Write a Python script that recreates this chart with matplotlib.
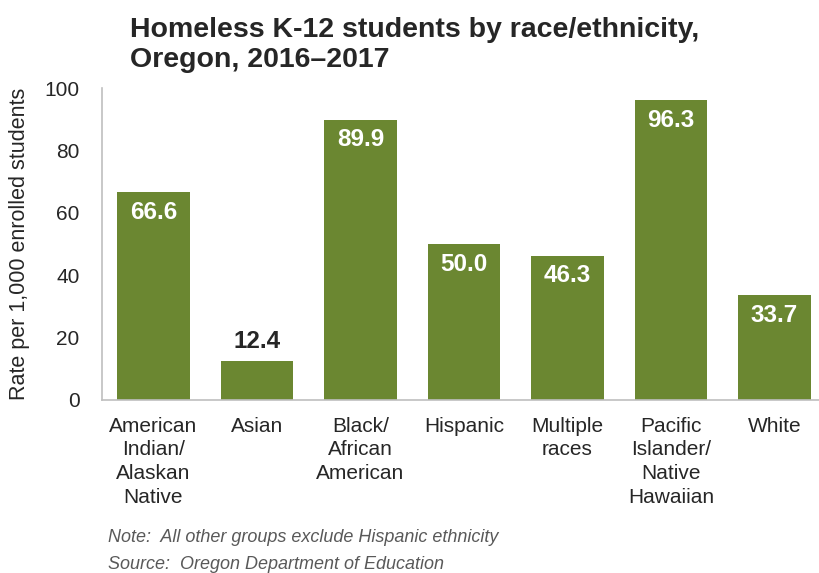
import matplotlib.pyplot as plt

plt.rcParams['font.family'] = ['Liberation Sans', 'DejaVu Sans']

# data
groups = ["American\nIndian/\nAlaskan\nNative", "Asian", "Black/\nAfrican\nAmerican",
          "Hispanic", "Multiple\nraces", "Pacific\nIslander/\nNative\nHawaiian", "White"]
rates = [66.6, 12.4, 89.9, 50.0, 46.3, 96.3, 33.7]
yticks = [0, 20, 40, 60, 80, 100]

bar_color = "#6b8731"
text_color = "#262626"

fig = plt.figure(figsize=(8.19, 5.73), dpi=100)
ax = fig.add_axes([0.1242, 0.302, 0.8846, 0.544])

x = range(len(groups))
bars = ax.bar(x, rates, width=0.7, color=bar_color)

for xi, v in zip(x, rates):
    if v > 20:
        ax.text(xi, v - 6.5, f"{v:.1f}", ha="center", va="center", color="white",
                fontsize=17.5, fontweight="bold")
    else:
        ax.text(xi, v + 6.5, f"{v:.1f}", ha="center", va="center", color=text_color,
                fontsize=17.5, fontweight="bold")

ax.set_xlim(-0.5, len(groups) - 0.5)
ax.set_ylim(0, 100)
ax.set_yticks(yticks)
ax.set_xticks(list(x))
ax.set_xticklabels(groups, fontsize=15, color=text_color, linespacing=1.32)
ax.tick_params(axis="y", labelsize=15, colors=text_color, length=0, pad=16)
ax.tick_params(axis="x", length=0, pad=12)

for side in ["top", "right"]:
    ax.spines[side].set_visible(False)
for side in ["left", "bottom"]:
    ax.spines[side].set_color("#bfbfbf")
    ax.spines[side].set_linewidth(1.2)

ax.set_ylabel("Rate per 1,000 enrolled students", fontsize=15.5, color=text_color, labelpad=10)

fig.text(0.159, 0.922, "Homeless K-12 students by race/ethnicity,\nOregon, 2016\u20132017",
         fontsize=20.5, fontweight="bold", color=text_color, va="center", ha="left",
         linespacing=1.2)

fig.text(0.132, 0.062, "Note:  All other groups exclude Hispanic ethnicity",
         fontsize=13, style="italic", color="#595959", va="center")
fig.text(0.132, 0.015, "Source:  Oregon Department of Education",
         fontsize=13, style="italic", color="#595959", va="center")

fig.savefig("out.png", dpi=100)
